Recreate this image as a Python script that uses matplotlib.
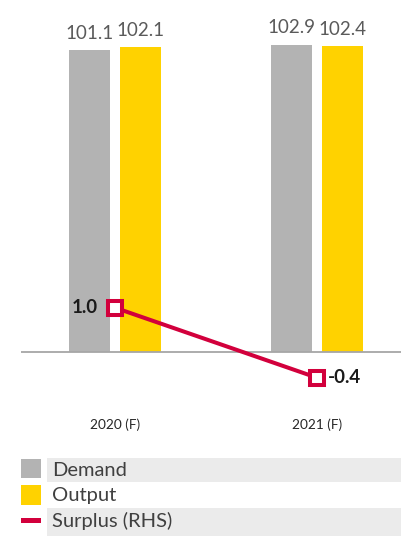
import matplotlib
matplotlib.use('Agg')
from matplotlib import pyplot as plt
from matplotlib.patches import Rectangle
import numpy as np

# data
years = ['2020 (F)', '2021 (F)']
demand = [101.1, 102.9]
output = [102.1, 102.4]
surplus = [1.0, -0.4]
series_names = ['Demand', 'Output', 'Surplus (RHS)']

gray = '#b3b3b3'
yellow = '#ffd200'
red = '#d2003c'
band = '#ebebeb'

plt.rcParams['font.family'] = ['Lato', 'DejaVu Sans']

W, H = 401, 536
fig = plt.figure(figsize=(W / 100, H / 100), dpi=100)

# main axes: pixels 21..401 horizontally, 20..400 vertically
ax = fig.add_axes([21 / W, 1 - 400 / H, 380 / W, 380 / H])
ax2 = ax.twinx()

x = np.arange(len(years))
width = 0.203
off = 0.126

b1 = ax.bar(x - off, demand, width, color=gray, zorder=2)
b2 = ax.bar(x + off, output, width, color=yellow, zorder=2)
ax.axhline(0, color='#a6a6a6', linewidth=1.3, zorder=3)

for bars, vals in [(b1, demand), (b2, output)]:
    for rect, v in zip(bars, vals):
        ax.annotate(f'{v:.1f}', (rect.get_x() + rect.get_width() / 2, v),
                    xytext=(0, 12), textcoords='offset points',
                    ha='center', va='center', fontsize=13.5, color='#5a5a5a')

ax2.plot(x, surplus, color=red, linewidth=2.9, marker='s', markersize=9.5,
         markerfacecolor='white', markeredgecolor=red, markeredgewidth=2.9, zorder=4)
for i, v in enumerate(surplus):
    if v >= 0:
        ax2.annotate(f'{v:.1f}', (x[i], v), xytext=(-12, 0), textcoords='offset points',
                     ha='right', va='center', fontsize=13.5, fontweight='bold', color='#1a1a1a')
    else:
        ax2.annotate(f'{v:.1f}', (x[i], v), xytext=(8, 0), textcoords='offset points',
                     ha='left', va='center', fontsize=13.5, fontweight='bold', color='#1a1a1a')

ax.set_xlim(-0.465, 1.416)
ax.set_ylim(-16.07, 111.15)
ax2.set_ylim(-0.846, 6.754)

ax.set_xticks(x)
ax.set_xticklabels(years, fontsize=9.8, color='#262626')
ax.tick_params(axis='x', length=0, pad=13)
ax.set_yticks([])
ax2.set_yticks([])
for a in (ax, ax2):
    for s in a.spines.values():
        s.set_visible(False)

# legend drawn by hand in pixel coordinates
lg = fig.add_axes([0, 0, 1, 86 / H])
lg.set_xlim(0, W)
lg.set_ylim(536, 450)
lg.axis('off')
lg.add_patch(Rectangle((47, 458), 354, 24, color=band, lw=0))
lg.add_patch(Rectangle((47, 508), 354, 28, color=band, lw=0))
lg.add_patch(Rectangle((21, 459), 20, 19, color=gray, lw=0))
lg.add_patch(Rectangle((21, 485), 20, 20, color=yellow, lw=0))
lg.add_patch(Rectangle((21, 518), 20, 5, color=red, lw=0))
for name, yy in zip(series_names, [470, 495, 521]):
    lg.text(52, yy, name, fontsize=14.5, color='#404040', va='center', ha='left')

fig.savefig('out.png', dpi=100)
